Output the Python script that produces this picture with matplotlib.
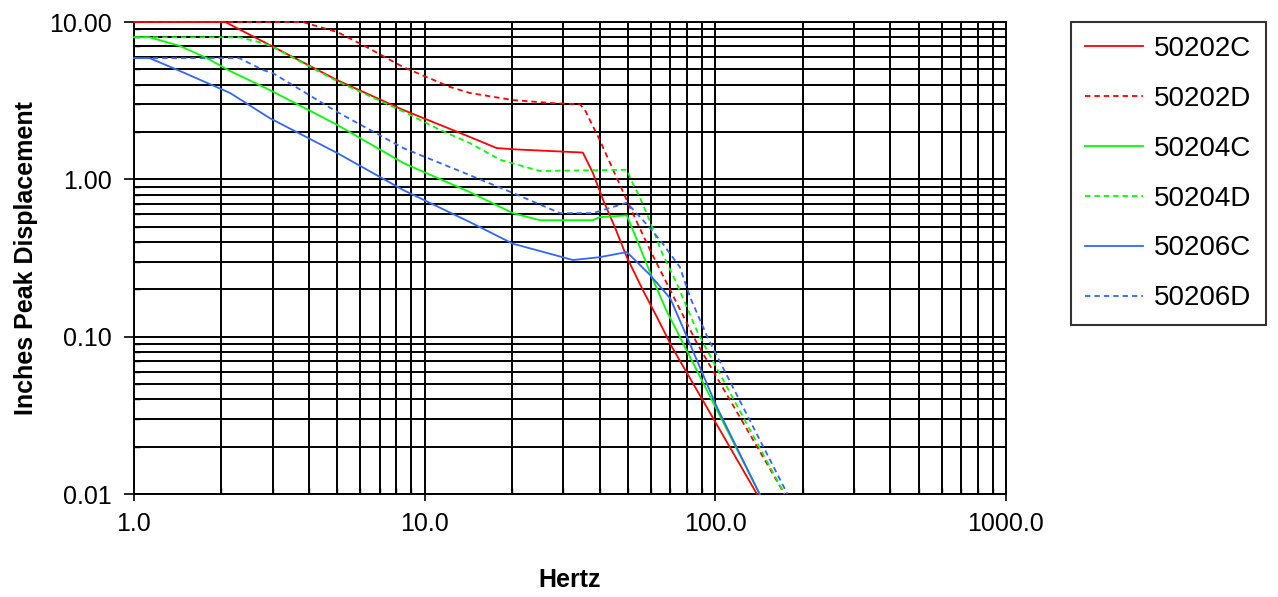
import matplotlib
matplotlib.use("Agg")
import matplotlib.pyplot as plt
from matplotlib.ticker import FixedLocator, FormatStrFormatter, LogLocator, NullFormatter

plt.rcParams['font.family'] = ['Liberation Sans', 'DejaVu Sans']

# values (Hz, inches peak displacement)
x_50202C = [1, 2.06, 2.93, 5.0, 8.44, 14.3, 17.7, 20.5, 35, 37.9, 41.1, 45.1, 49.6, 56.3, 63, 70.9, 139]
y_50202C = [10, 10, 7.14, 4.27, 2.76, 1.86, 1.58, 1.55, 1.48, 1.1, 0.74, 0.497, 0.32, 0.198, 0.133, 0.086, 0.01]

x_50202D = [1, 3.8, 5.0, 6.13, 8.44, 12.2, 14.3, 20.1, 27.6, 34.2, 35.6, 40, 50.8, 59.6, 86.4, 173]
y_50202D = [10, 10, 8.64, 7.14, 5.17, 3.87, 3.54, 3.19, 3.05, 3.0, 2.76, 1.78, 0.667, 0.356, 0.091, 0.01]

x_50204C = [1, 1.13, 1.44, 1.78, 2.14, 2.93, 5.0, 8.44, 14.3, 20.1, 24.9, 37.9, 40, 49.6, 55, 60.5, 67.7, 142]
y_50204C = [8.0, 8.0, 7.04, 5.9, 4.88, 3.7, 2.22, 1.27, 0.83, 0.61, 0.55, 0.55, 0.575, 0.59, 0.371, 0.239, 0.148, 0.01]

x_50204D = [1, 2.3, 2.78, 3.0, 5.0, 8.44, 11.3, 14.3, 18.2, 24.9, 49.6, 51.9, 55, 59.6, 65.6, 73.5, 87.2, 173]
y_50204D = [8.0, 8.0, 7.35, 6.95, 4.2, 2.7, 2.06, 1.7, 1.33, 1.13, 1.15, 0.947, 0.77, 0.54, 0.34, 0.22, 0.105, 0.01]

x_50206C = [1, 1.13, 1.44, 2.14, 2.93, 5.0, 8.44, 14.3, 20.1, 32.4, 40, 49.6, 59.6, 70, 79.8, 101, 142]
y_50206C = [5.9, 5.9, 4.88, 3.54, 2.45, 1.47, 0.855, 0.535, 0.39, 0.307, 0.32, 0.345, 0.247, 0.175, 0.1, 0.036, 0.01]

x_50206D = [1, 2.3, 2.78, 3.0, 5.0, 8.44, 13.5, 20.1, 29.2, 37.9, 49.6, 55, 59.6, 65.6, 75.5, 81.8, 94.5, 177]
y_50206D = [5.9, 5.9, 4.95, 4.74, 2.68, 1.58, 1.11, 0.82, 0.61, 0.61, 0.71, 0.577, 0.49, 0.395, 0.277, 0.179, 0.097, 0.01]

series = [
    ("50202C", x_50202C, y_50202C, "#FF0000", "-"),
    ("50202D", x_50202D, y_50202D, "#FF0000", "--"),
    ("50204C", x_50204C, y_50204C, "#00FF00", "-"),
    ("50204D", x_50204D, y_50204D, "#00FF00", "--"),
    ("50206C", x_50206C, y_50206C, "#3366FF", "-"),
    ("50206D", x_50206D, y_50206D, "#3366FF", "--"),
]

x_ticks = [1, 10, 100, 1000]
y_ticks = [0.01, 0.1, 1, 10]

fig = plt.figure(figsize=(12.78, 5.97), dpi=100)
ax = fig.add_axes([134 / 1278, 1 - 494 / 597, (1006 - 134) / 1278, (494 - 22) / 597])

for name, xs, ys, col, ls in series:
    line, = ax.plot(xs, ys, color=col, linestyle=ls, linewidth=1.3, label=name,
                    clip_on=False, zorder=3)
    if ls == "--":
        line.set_dashes((3, 2.2))

ax.set_xscale("log")
ax.set_yscale("log")
ax.set_xlim(1, 1000)
ax.set_ylim(0.01, 10)

ax.xaxis.set_major_locator(FixedLocator(x_ticks))
ax.yaxis.set_major_locator(FixedLocator(y_ticks))
ax.xaxis.set_minor_locator(LogLocator(base=10, subs=range(2, 10)))
ax.yaxis.set_minor_locator(LogLocator(base=10, subs=range(2, 10)))
ax.xaxis.set_major_formatter(FormatStrFormatter('%.1f'))
ax.yaxis.set_major_formatter(FormatStrFormatter('%.2f'))
ax.xaxis.set_minor_formatter(NullFormatter())
ax.yaxis.set_minor_formatter(NullFormatter())

ax.set_axisbelow(True)
ax.grid(True, which="both", color="black", linewidth=1.4)
for s in ax.spines.values():
    s.set_linewidth(1.4)
    s.set_color("black")

ax.tick_params(axis="both", which="major", labelsize=18, width=1.2, color="black")
ax.tick_params(axis="x", which="major", direction="inout", length=10, pad=8)
ax.tick_params(axis="y", which="major", direction="out", length=7, pad=9)
ax.tick_params(axis="both", which="minor", direction="in", length=4, width=1)

ax.set_xlabel("Hertz", fontsize=18, fontweight="bold", labelpad=23)
ax.set_ylabel("Inches Peak Displacement", fontsize=18, fontweight="bold", labelpad=8)

leg = fig.legend(loc="upper left", bbox_to_anchor=(1071 / 1278, 1 - 22 / 597),
                 fontsize=20, frameon=True, fancybox=False, borderpad=0.5,
                 handlelength=2.1, handletextpad=0.4, labelspacing=0.86,
                 borderaxespad=0)
leg.get_frame().set_edgecolor("black")
leg.get_frame().set_linewidth(1.5)

fig.savefig("out.png", dpi=100)
